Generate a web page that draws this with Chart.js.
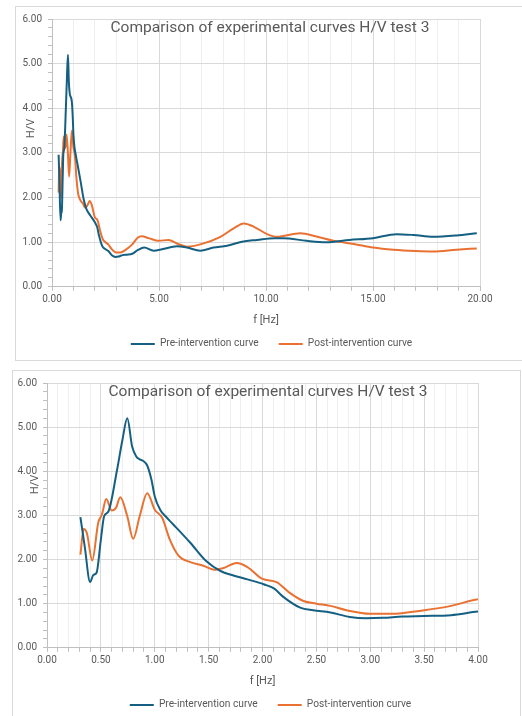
<!DOCTYPE html>
<html lang="en">

<head>
    <meta charset="UTF-8">
    <title>Comparison of experimental curves H/V test 3</title>
    <script src="https://cdn.jsdelivr.net/npm/chart.js"></script>
    <style>
        body {
            margin: 0;
            width: 522px;
            height: 716px;
            overflow: hidden;
            background: #ffffff;
            font-family: Roboto, 'Noto Sans', sans-serif;
            position: relative;
        }

        .frame {
            position: absolute;
            border: 1px solid #d9d9d9;
            background: transparent;
        }

        #frame_top {
            left: 15px;
            top: 6px;
            width: 530px;
            height: 353px;
        }

        #frame_bottom {
            left: 12px;
            top: 370px;
            width: 507px;
            height: 400px;
        }

        canvas {
            position: absolute;
        }

        #chart_top {
            left: 16px;
            top: 7px;
        }

        #chart_bottom {
            left: 13px;
            top: 371px;
        }

        .chart-title {
            position: absolute;
            width: 400px;
            text-align: center;
            font-size: 15.5px;
            color: #595959;
            white-space: nowrap;
            pointer-events: none;
        }

        .axis-title {
            position: absolute;
            font-size: 11px;
            color: #595959;
            transform: rotate(-90deg);
            pointer-events: none;
        }
    </style>
</head>

<body>
    <div class="frame" id="frame_top"></div>
    <div class="frame" id="frame_bottom"></div>

    <canvas id="chart_top" width="518" height="352"></canvas>
    <canvas id="chart_bottom" width="520" height="349"></canvas>

    <div class="chart-title" style="left: 70px; top: 18px;">Comparison of experimental curves H/V test 3</div>
    <div class="chart-title" style="left: 68px; top: 382px;">Comparison of experimental curves H/V test 3</div>
    <div class="axis-title" style="left: 21px; top: 122px;">H/V</div>
    <div class="axis-title" style="left: 25px; top: 478px;">H/V</div>

    <script>
        // pre-intervention curve
        const freqPre = [0.31, 0.35, 0.40, 0.43, 0.46, 0.50, 0.53, 0.57, 0.65, 0.70, 0.745, 0.79, 0.83, 0.86, 0.89, 0.93, 0.97,
            1.00, 1.05, 1.10, 1.17, 1.33, 1.48, 1.61, 1.73, 1.86, 2.01, 2.11, 2.19, 2.35, 2.47, 2.63, 2.81, 2.96, 3.12, 3.30,
            3.50, 3.75, 4.00, 4.31, 4.75, 5.14, 5.84, 6.31, 6.93, 7.55, 8.18, 8.88, 9.58, 10.4, 10.8, 11.9, 12.8, 13.9, 15.0,
            16.1, 16.9, 17.8, 18.9, 19.85];
        const hvPre = [2.96, 2.30, 1.49, 1.65, 1.70, 2.45, 2.98, 3.09, 4.03, 4.71, 5.20, 4.56, 4.33, 4.27, 4.24, 4.13, 3.80,
            3.43, 3.13, 2.98, 2.80, 2.38, 1.96, 1.74, 1.64, 1.55, 1.44, 1.34, 1.16, 0.91, 0.85, 0.80, 0.70, 0.67, 0.68, 0.71,
            0.72, 0.74, 0.82, 0.88, 0.81, 0.84, 0.91, 0.88, 0.81, 0.88, 0.92, 1.01, 1.05, 1.09, 1.09, 1.03, 1.00, 1.05, 1.09,
            1.18, 1.16, 1.12, 1.15, 1.20];

        // post-intervention curve
        const freqPost = [0.31, 0.34, 0.37, 0.42, 0.475, 0.51, 0.55, 0.60, 0.64, 0.68, 0.745, 0.80, 0.86, 0.93, 1.00, 1.07,
            1.14, 1.22, 1.33, 1.45, 1.55, 1.64, 1.76, 1.86, 2.00, 2.13, 2.25, 2.38, 2.50, 2.63, 2.78, 3.00, 3.19, 3.50, 3.75,
            4.00, 4.20, 4.52, 4.98, 5.45, 5.84, 6.31, 6.93, 7.87, 8.49, 8.96, 9.42, 10.05, 10.5, 11.6, 12.4, 13.15, 14.1, 15.0,
            15.95, 17.0, 17.8, 18.9, 19.85];
        const hvPost = [2.11, 2.69, 2.60, 1.98, 2.83, 3.02, 3.37, 3.11, 3.17, 3.41, 2.98, 2.47, 2.98, 3.50, 3.13, 2.94,
            2.45, 2.09, 1.94, 1.86, 1.77, 1.81, 1.92, 1.83, 1.56, 1.49, 1.25, 1.06, 1.00, 0.95, 0.85, 0.77, 0.77, 0.85, 0.95,
            1.10, 1.13, 1.09, 1.03, 1.05, 0.97, 0.90, 0.95, 1.12, 1.31, 1.42, 1.35, 1.18, 1.12, 1.20, 1.12, 1.03, 0.96, 0.88,
            0.83, 0.80, 0.79, 0.83, 0.86];

        const seriesNames = ['Pre-intervention curve', 'Post-intervention curve'];
        const seriesColors = ['#156082', '#E97132'];

        function toPoints(xs, ys) {
            return xs.map(function (x, i) { return { x: x, y: ys[i] }; });
        }

        function isMultiple(value, step) {
            const r = value / step;
            return Math.abs(r - Math.round(r)) < 1e-6;
        }

        // yWidth: left axis width, rightGap: empty space right of the plot (hidden axis)
        function createHVChart(canvasId, xMax, xStep, xMajor, yWidth, rightGap, pad) {
            return new Chart(document.getElementById(canvasId), {
                type: 'line',
                data: {
                    datasets: [
                        {
                            label: seriesNames[0],
                            data: toPoints(freqPre, hvPre),
                            borderColor: seriesColors[0],
                            backgroundColor: seriesColors[0],
                            borderWidth: 2,
                            pointRadius: 0,
                            cubicInterpolationMode: 'monotone',
                            fill: false
                        },
                        {
                            label: seriesNames[1],
                            data: toPoints(freqPost, hvPost),
                            borderColor: seriesColors[1],
                            backgroundColor: seriesColors[1],
                            borderWidth: 2,
                            pointRadius: 0,
                            cubicInterpolationMode: 'monotone',
                            fill: false
                        }
                    ]
                },
                options: {
                    responsive: false,
                    animation: false,
                    layout: { padding: pad },
                    plugins: {
                        legend: {
                            position: 'bottom',
                            labels: {
                                usePointStyle: true,
                                pointStyle: 'line',
                                pointStyleWidth: 24,
                                padding: 20,
                                color: '#595959',
                                font: { family: 'Roboto', size: 10.2 }
                            }
                        },
                        tooltip: { enabled: false }
                    },
                    scales: {
                        x: {
                            type: 'linear',
                            min: 0,
                            max: xMax,
                            afterFit: function (scale) { scale.height = 32; },
                            border: { color: '#bfbfbf' },
                            grid: {
                                color: function (ctx) {
                                    return isMultiple(ctx.tick.value, xMajor) ? '#d9d9d9' : '#efefef';
                                },
                                tickColor: '#bfbfbf',
                                tickLength: 4
                            },
                            ticks: {
                                stepSize: xStep,
                                autoSkip: false,
                                maxRotation: 0,
                                padding: 3,
                                color: '#595959',
                                font: { family: 'Roboto', size: 10 },
                                callback: function (value) {
                                    return isMultiple(value, xMajor) ? value.toFixed(2) : '';
                                }
                            },
                            title: {
                                display: true,
                                text: 'f [Hz]',
                                color: '#595959',
                                font: { family: 'Roboto', size: 11 },
                                padding: { top: 0, bottom: -8 }
                            }
                        },
                        y: {
                            min: 0,
                            max: 6,
                            afterFit: function (scale) { scale.width = yWidth; },
                            border: { color: '#bfbfbf' },
                            grid: {
                                color: function (ctx) {
                                    return isMultiple(ctx.tick.value, 1) ? '#d9d9d9' : 'transparent';
                                },
                                tickColor: '#bfbfbf',
                                tickLength: 4
                            },
                            ticks: {
                                stepSize: 0.2,
                                autoSkip: false,
                                padding: 6,
                                color: '#595959',
                                font: { family: 'Roboto', size: 10 },
                                callback: function (value) {
                                    return isMultiple(value, 1) ? value.toFixed(2) : '';
                                }
                            }
                        },
                        gap: {
                            position: 'right',
                            afterFit: function (scale) { scale.width = rightGap; },
                            grid: { display: false },
                            border: { display: false },
                            ticks: { display: false }
                        }
                    }
                }
            });
        }

        createHVChart('chart_top', 20, 1, 5, 36, 47, { left: 0, right: 7, top: 9, bottom: 0 });
        createHVChart('chart_bottom', 4, 0.1, 0.5, 34, 50, { left: 0, right: 5, top: 8, bottom: 0 });
    </script>

</body>

</html>
